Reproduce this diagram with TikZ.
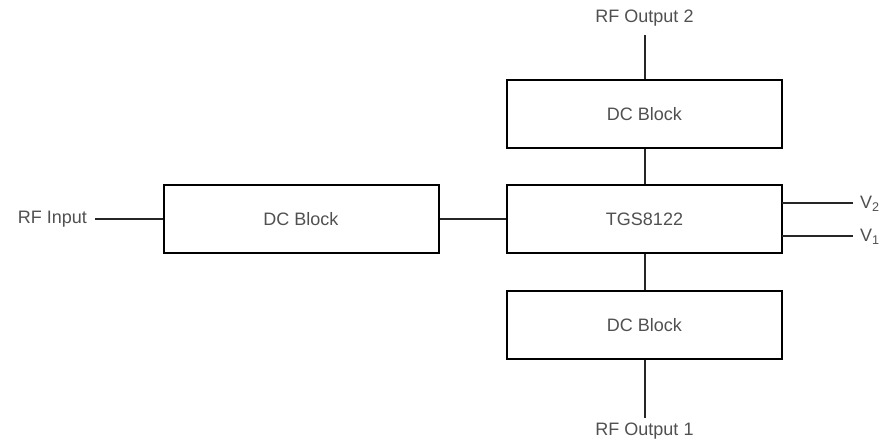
\documentclass[tikz,border=0pt]{standalone}
\usepackage{fontspec}
\setmainfont{Liberation Sans}
\begin{document}
\begin{tikzpicture}[x=1pt,y=-1pt,
  blk/.style={draw=black,line width=2pt,minimum width=275pt,minimum height=68pt,inner sep=0pt,text=txtgray,font=\fontsize{18}{20}\selectfont},
  lbl/.style={inner sep=0pt,text=txtgray,font=\fontsize{18}{20}\selectfont},
  wire/.style={draw=black!85,line width=2pt}]
\definecolor{txtgray}{HTML}{505050}
\useasboundingbox (0,0) rectangle (884,442);
\node[blk] (left) at (301,219) {DC Block};
\node[blk] (tgs) at (644.5,219) {TGS8122};
\node[blk] (top) at (644.5,114) {DC Block};
\node[blk] (bot) at (644.5,325) {DC Block};
\node[lbl,anchor=east] (rfin) at (87,219) {RF Input};
\node[lbl] (rfo2) at (644.5,18) {RF Output 2};
\node[lbl] (rfo1) at (644.5,431) {RF Output 1};
\node[lbl,anchor=west] (v2) at (860,204) {V\textsubscript{2}};
\node[lbl,anchor=west] (v1) at (860,237) {V\textsubscript{1}};
\coordinate (inend) at (95,219);
\coordinate (o2end) at (644.5,35);
\coordinate (o1end) at (644.5,418);
\coordinate (v2a) at (782,203);
\coordinate (v2b) at (853,203);
\coordinate (v1a) at (782,236);
\coordinate (v1b) at (853,236);
\draw[wire] (inend) -- (left.west);
\draw[wire] (left.east) -- (tgs.west);
\draw[wire] (o2end) -- (top.north);
\draw[wire] (top.south) -- (tgs.north);
\draw[wire] (tgs.south) -- (bot.north);
\draw[wire] (bot.south) -- (o1end);
\draw[wire] (v2a) -- (v2b);
\draw[wire] (v1a) -- (v1b);
\end{tikzpicture}
\end{document}
